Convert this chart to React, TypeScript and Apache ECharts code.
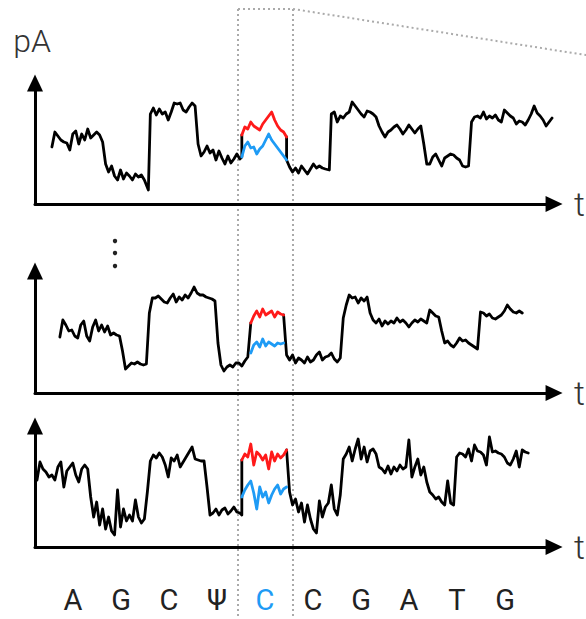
import React, { useEffect, useRef } from 'react';
import * as echarts from 'echarts';

// Sequence read under the traces (highlighted base = modified position)
const bases = ['A', 'G', 'C', 'Ψ', 'C', 'C', 'G', 'A', 'T', 'G'];
const highlightBase = 4;

// Panel 1 current trace [time, pA]
const p1Pre = [[52,57],[55,72],[58,68],[61,64],[64,62],[67,61],[70,54],[73,70],[76,73],[79,60],[82,70],[85,64],[88,75],[91,66],[94,69],[97,72],[100,69],[103,62],[106,40],[109,32],[112,38],[115,28],[118,24],[121,34],[124,25],[127,31],[130,28],[133,24],[136,30],[139,27],[142,29],[145,24],[149,14],[151,90],[154,96],[157,89],[160,95],[163,90],[166,92],[169,84],[172,92],[175,101],[178,100],[181,101],[184,94],[187,92],[190,97],[193,101],[196,98],[199,60],[202,48],[205,52],[208,58],[211,51],[214,54],[217,44],[220,53],[223,46],[226,40],[229,48],[232,41],[235,45],[238,50],[241,45],[243,47],[243,69]];
const p1Red = [[243,69],[246,77],[249,75],[252,82],[255,78],[258,76],[261,74],[264,80],[267,84],[270,88],[273,92],[276,84],[279,78],[282,74],[285,72],[288,67]];
const p1Blue = [[243,47],[246,58],[249,62],[252,56],[255,57],[258,50],[261,55],[264,58],[267,64],[270,70],[273,64],[276,60],[279,56],[282,52],[285,48],[288,44]];
const p1Post = [[288,67],[288,44],[291,37],[294,32],[297,36],[300,31],[303,38],[306,34],[309,30],[312,35],[315,40],[318,36],[321,38],[324,36],[327,35],[331,34],[333,90],[336,92],[339,82],[342,88],[345,86],[348,90],[351,92],[354,102],[357,98],[360,94],[363,90],[366,87],[369,93],[372,92],[375,90],[378,87],[381,78],[384,72],[387,67],[390,72],[393,74],[396,77],[399,79],[402,75],[405,70],[408,74],[411,79],[414,75],[417,71],[420,75],[423,78],[426,60],[429,40],[432,40],[435,47],[438,50],[441,44],[444,38],[447,46],[450,48],[453,50],[456,49],[459,46],[462,44],[465,38],[468,37],[471,38],[474,82],[477,87],[480,88],[483,86],[486,92],[489,85],[492,88],[495,86],[498,89],[501,84],[504,82],[507,94],[510,91],[513,88],[516,86],[519,80],[522,83],[525,82],[528,79],[531,84],[534,90],[537,98],[540,91],[543,88],[546,84],[549,78],[552,82],[555,86]];

// Panel 2 current trace
const p2Pre = [[60,56],[63,73],[66,68],[69,62],[72,63],[75,57],[78,55],[81,68],[84,72],[87,57],[90,52],[93,66],[96,73],[99,62],[102,68],[105,61],[108,67],[111,58],[114,60],[117,58],[120,57],[123,42],[126,24],[129,27],[132,30],[135,29],[138,31],[141,29],[144,28],[147,29],[150,80],[153,95],[156,95],[159,97],[162,94],[165,91],[168,90],[171,95],[174,99],[177,91],[180,96],[183,93],[186,98],[189,95],[192,100],[195,106],[198,100],[201,98],[204,98],[207,96],[210,95],[213,94],[216,92],[219,50],[222,28],[225,22],[228,26],[231,28],[234,26],[237,30],[240,30],[243,27],[246,32],[249,36],[252,70]];
const p2Red = [[252,70],[255,77],[258,82],[261,76],[264,84],[267,78],[270,80],[273,82],[276,76],[279,81],[282,79],[285,78]];
const p2Blue = [[252,40],[255,48],[258,51],[261,46],[264,54],[267,47],[270,51],[273,49],[276,47],[279,50],[282,49],[285,50]];
const p2Post = [[285,78],[288,38],[291,33],[294,38],[297,30],[300,35],[303,33],[306,30],[309,36],[312,31],[315,33],[318,38],[321,41],[324,33],[327,36],[330,37],[333,40],[336,34],[339,31],[342,35],[345,75],[348,88],[351,98],[354,95],[357,96],[360,90],[363,95],[366,92],[369,96],[372,80],[375,73],[378,70],[381,74],[384,67],[387,72],[390,69],[393,72],[396,70],[399,75],[402,71],[405,73],[408,70],[411,66],[414,70],[417,73],[420,71],[423,74],[426,72],[429,70],[432,83],[435,80],[438,77],[441,76],[444,62],[447,50],[450,52],[453,48],[456,46],[459,50],[462,55],[465,52],[468,53],[471,50],[474,48],[477,46],[480,44],[483,81],[486,80],[489,77],[492,79],[495,75],[498,74],[501,76],[504,78],[507,82],[510,88],[513,84],[516,81],[519,80],[522,82],[525,80]];

// Panel 3 current trace
const p3Pre = [[37,67],[40,85],[43,78],[46,75],[49,70],[52,72],[55,67],[58,80],[61,85],[64,60],[67,76],[70,80],[73,84],[76,72],[79,65],[82,78],[85,82],[88,78],[91,50],[94,30],[97,45],[100,22],[103,38],[106,18],[109,30],[112,16],[115,12],[118,57],[121,20],[124,38],[127,26],[130,32],[133,26],[136,47],[139,30],[142,24],[145,28],[148,55],[151,86],[154,92],[157,89],[160,94],[163,90],[166,82],[169,70],[172,89],[175,86],[178,92],[181,80],[184,85],[187,90],[190,95],[193,100],[196,88],[199,87],[202,86],[205,86],[208,60],[211,32],[214,34],[217,38],[220,32],[223,37],[226,39],[229,33],[232,36],[235,40],[238,35],[241,34],[243,32],[243,87]];
const p3Red = [[243,87],[246,93],[249,90],[252,103],[255,82],[258,95],[261,92],[264,87],[267,92],[270,78],[273,95],[276,86],[279,93],[282,89],[285,92],[288,97]];
const p3Blue = [[243,50],[246,57],[249,62],[252,66],[255,54],[258,38],[261,60],[264,50],[267,55],[270,44],[273,52],[276,58],[279,62],[282,53],[285,58],[288,60]];
const p3Post = [[288,97],[291,55],[294,42],[297,48],[300,35],[303,44],[306,25],[309,42],[312,28],[315,18],[318,14],[321,46],[324,30],[327,40],[330,44],[333,62],[336,38],[339,32],[342,52],[345,88],[348,93],[351,100],[354,86],[357,98],[360,108],[363,88],[366,100],[369,85],[372,96],[375,98],[378,93],[381,80],[384,78],[387,74],[390,81],[393,73],[396,80],[399,76],[402,82],[405,78],[408,80],[411,107],[414,70],[417,80],[420,88],[423,72],[426,80],[429,65],[432,55],[435,52],[438,48],[441,50],[444,45],[447,42],[450,66],[453,44],[456,42],[459,90],[462,94],[465,93],[468,90],[471,98],[474,86],[477,102],[480,96],[483,95],[486,92],[489,82],[492,110],[495,95],[498,96],[501,94],[504,93],[507,90],[510,84],[513,82],[516,88],[519,96],[522,80],[525,97],[528,95],[531,94]];

const panels = [
  { pre: p1Pre, post: p1Post, red: p1Red, blue: p1Blue },
  { pre: p2Pre, post: p2Post, red: p2Red, blue: p2Blue },
  { pre: p3Pre, post: p3Post, red: p3Red, blue: p3Blue },
];

const tMin = 35;
const tMax = 557;
const yMaxes = [121, 122, 121];

export default function App() {
  const ref = useRef<HTMLDivElement>(null);
  useEffect(() => {
    const chart = echarts.init(ref.current!, null, { renderer: 'svg' });
    const gridTops = [83, 271, 426];
    const grids: any[] = gridTops.map((top, i) => ({ left: 35, right: 29, top, height: yMaxes[i] }));
    grids.push({ left: 49, width: 480, top: 560, height: 20 });

    const axisLine = {
      show: true,
      symbol: ['none', 'triangle'],
      symbolSize: [16, 17],
      lineStyle: { color: '#000', width: 3 },
    };
    const textFont = { fontFamily: 'Roboto', fontWeight: 300 as any, color: '#333', fontSize: 32 };

    const xAxes: any[] = panels.map((_, i) => ({
      type: 'value', gridIndex: i, min: tMin, max: tMax,
      axisLine, axisTick: { show: false }, axisLabel: { show: false }, splitLine: { show: false },
      name: 't', nameLocation: 'end', nameGap: 20,
      nameTextStyle: { ...textFont, fontSize: 34 },
    }));
    xAxes.push({
      type: 'category', gridIndex: 3, data: bases,
      axisLine: { show: false }, axisTick: { show: false }, splitLine: { show: false },
      axisLabel: {
        margin: 6,
        formatter: (v: string, idx: number) => (idx === highlightBase ? `{hi|${v}}` : `{n|${v}}`),
        rich: {
          n: { fontFamily: 'Roboto', fontSize: 29, lineHeight: 28, color: '#222' },
          hi: { fontFamily: 'Roboto', fontSize: 29, lineHeight: 28, color: '#1e9bf5' },
        },
      },
    });
    const yAxes: any[] = panels.map((_, i) => ({
      type: 'value', gridIndex: i, min: 0, max: yMaxes[i],
      axisLine, axisTick: { show: false }, axisLabel: { show: false }, splitLine: { show: false },
      name: i === 0 ? 'pA' : '', nameLocation: 'end', nameGap: 26,
      nameTextStyle: { ...textFont, padding: [0, 6, 0, 0] },
    }));
    yAxes.push({ type: 'value', gridIndex: 3, show: false });

    const series: any[] = [];
    panels.forEach((p, i) => {
      const base = { type: 'line', xAxisIndex: i, yAxisIndex: i, showSymbol: false, symbol: 'none', silent: true };
      const ls = { width: 2.8, join: 'round', cap: 'round' };
      series.push({ ...base, data: p.pre, lineStyle: { ...ls, color: '#000' }, z: 2 });
      series.push({ ...base, data: p.post, lineStyle: { ...ls, color: '#000' }, z: 2 });
      series.push({ ...base, data: p.red, lineStyle: { ...ls, color: '#ff1a1a' }, z: 3 });
      series.push({ ...base, data: p.blue, lineStyle: { ...ls, color: '#1e9bf5' }, z: 3 });
    });

    const dotted = { stroke: '#aaa', lineWidth: 2, lineDash: [2, 3] };
    chart.setOption({
      animation: false,
      backgroundColor: '#fff',
      grid: grids,
      xAxis: xAxes,
      yAxis: yAxes,
      series,
      graphic: [
        { type: 'line', z: 0, shape: { x1: 238, y1: 9, x2: 238, y2: 619 }, style: dotted },
        { type: 'line', z: 0, shape: { x1: 293, y1: 9, x2: 293, y2: 619 }, style: dotted },
        { type: 'polyline', z: 0, shape: { points: [[238, 9], [293, 9], [592, 56]] }, style: { ...dotted, fill: null } },
        { type: 'circle', shape: { cx: 115, cy: 241, r: 2.2 }, style: { fill: '#222' } },
        { type: 'circle', shape: { cx: 115, cy: 253, r: 2.2 }, style: { fill: '#222' } },
        { type: 'circle', shape: { cx: 115, cy: 266, r: 2.2 }, style: { fill: '#222' } },
      ],
    });
    return () => chart.dispose();
  }, []);
  return <div ref={ref} style={{ position: 'fixed', left: 0, top: 0, width: 586, height: 619, background: '#fff' }} />;
}
